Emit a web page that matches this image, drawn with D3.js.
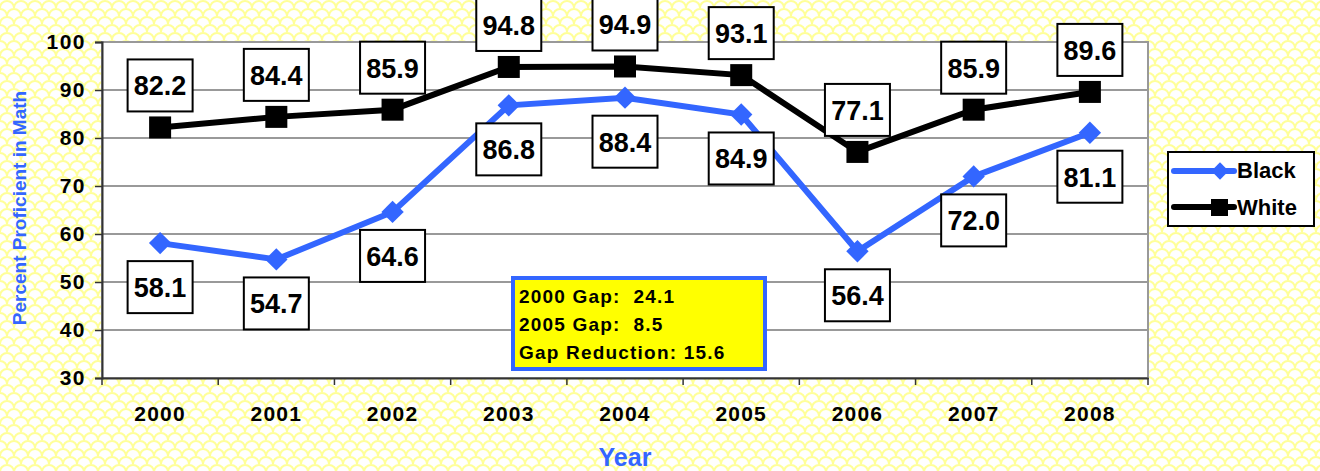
<!DOCTYPE html>
<html>
<head>
<meta charset="utf-8">
<script src="https://cdn.jsdelivr.net/npm/d3@7"></script>
<style>
  body { margin: 0; background: #fff; }
  text { font-family: "Liberation Sans", Arial, sans-serif; font-weight: bold; white-space: pre; }
</style>
</head>
<body>
<svg id="chart"></svg>
<script>
var years = ["2000", "2001", "2002", "2003", "2004", "2005", "2006", "2007", "2008"];
var blackVals = [58.1, 54.7, 64.6, 86.8, 88.4, 84.9, 56.4, 72.0, 81.1];
var whiteVals = [82.2, 84.4, 85.9, 94.8, 94.9, 93.1, 77.1, 85.9, 89.6];
var yTicks = [30, 40, 50, 60, 70, 80, 90, 100];
var gapLines = ["2000 Gap:  24.1", "2005 Gap:  8.5", "Gap Reduction: 15.6"];

var W = 1320, H = 471;
var margin = {top: 42, right: 172, bottom: 93, left: 102};
var width = W - margin.left - margin.right,
    height = H - margin.top - margin.bottom;

var blue = "#3366ff";
var font = "'Liberation Sans', Arial, sans-serif";

var svg = d3.select("#chart").attr("width", W).attr("height", H);

// yellow fish-scale background
var defs = svg.append("defs");
var pat = defs.append("pattern")
    .attr("id", "scales")
    .attr("patternUnits", "userSpaceOnUse")
    .attr("width", 28).attr("height", 16);
pat.append("rect").attr("width", 28).attr("height", 16).attr("fill", "#fff");
pat.append("path")
    .attr("d", "M0,8 A7,7 0 0,1 14,8 A7,7 0 0,1 28,8 M-7,16 A7,7 0 0,1 7,16 A7,7 0 0,1 21,16 A7,7 0 0,1 35,16 M-7,0 A7,7 0 0,1 7,0 A7,7 0 0,1 21,0 A7,7 0 0,1 35,0")
    .attr("fill", "none")
    .attr("stroke", "#ffff99")
    .attr("stroke-width", 2);
svg.append("rect").attr("width", W).attr("height", H).attr("fill", "url(#scales)");

var g = svg.append("g")
    .attr("transform", "translate(" + margin.left + "," + margin.top + ")");

var x = d3.scaleBand().domain(years).range([0, width]);
var y = d3.scaleLinear().domain([30, 100]).range([height, 0]);
var cx = function(d, i) { return x(years[i]) + x.bandwidth() / 2; };

// plot area
g.append("rect")
    .attr("width", width).attr("height", height)
    .attr("fill", "#fff")
    .attr("stroke", "#999").attr("stroke-width", 2);

// gridlines
g.selectAll(".grid")
    .data(yTicks.slice(1))
  .enter().append("line")
    .attr("x1", 0).attr("x2", width)
    .attr("y1", function(d) { return y(d); })
    .attr("y2", function(d) { return y(d); })
    .attr("stroke", "#999").attr("stroke-width", 2);

// y axis
var yAxis = g.append("g")
    .call(d3.axisLeft(y).tickValues(yTicks).tickSize(7).tickPadding(9));
yAxis.select(".domain").attr("stroke", "#333").attr("stroke-width", 2);
yAxis.selectAll(".tick line").attr("stroke", "#333").attr("stroke-width", 1.5);
yAxis.selectAll("text")
    .attr("font-size", 21).attr("font-family", font)
    .attr("letter-spacing", 1.5)
    .attr("font-weight", "bold").attr("fill", "#000");

// x axis
var xAxis = g.append("g")
    .attr("transform", "translate(0," + height + ")")
    .call(d3.axisBottom(x).tickSize(0).tickPadding(28));
xAxis.select(".domain").attr("stroke", "#333").attr("stroke-width", 2);
xAxis.selectAll("text")
    .attr("font-size", 21).attr("font-family", font)
    .attr("letter-spacing", 1.2)
    .attr("font-weight", "bold").attr("fill", "#000");
g.selectAll(".xtick")
    .data(years.concat(["end"]))
  .enter().append("line")
    .attr("x1", function(d, i) { return i * x.bandwidth(); })
    .attr("x2", function(d, i) { return i * x.bandwidth(); })
    .attr("y1", height).attr("y2", height + 7)
    .attr("stroke", "#333").attr("stroke-width", 1.5);

// axis titles
svg.append("text")
    .attr("transform", "translate(26," + (margin.top + height / 2 - 2) + ") rotate(-90)")
    .attr("text-anchor", "middle")
    .attr("font-size", 19).attr("fill", blue)
    .text("Percent Proficient in Math");
svg.append("text")
    .attr("x", 625).attr("y", 466)
    .attr("text-anchor", "middle")
    .attr("font-size", 25).attr("fill", blue)
    .text("Year");

// lines
var line = d3.line().x(cx).y(function(d) { return y(d); });

g.append("path").datum(blackVals)
    .attr("d", line).attr("fill", "none")
    .attr("stroke", blue).attr("stroke-width", 6);
g.append("path").datum(whiteVals)
    .attr("d", line).attr("fill", "none")
    .attr("stroke", "#000").attr("stroke-width", 6);

var diamond = d3.symbol().type(d3.symbolSquare).size(250);
g.selectAll(".bm")
    .data(blackVals)
  .enter().append("path")
    .attr("d", diamond)
    .attr("transform", function(d, i) { return "translate(" + cx(d, i) + "," + y(d) + ") rotate(45)"; })
    .attr("fill", blue);
g.selectAll(".wm")
    .data(whiteVals)
  .enter().append("rect")
    .attr("x", function(d, i) { return cx(d, i) - 11; })
    .attr("y", function(d) { return y(d) - 11; })
    .attr("width", 22).attr("height", 22)
    .attr("fill", "#000");

// data labels
var boxW = 65, boxH = 52;
function labels(vals, above) {
  var lg = g.selectAll(null)
      .data(vals)
    .enter().append("g")
      .attr("transform", function(d, i) {
        var top = above ? y(d) - 16 - boxH : y(d) + 18;
        return "translate(" + (cx(d, i) - boxW / 2) + "," + top + ")";
      });
  lg.append("rect")
      .attr("width", boxW).attr("height", boxH)
      .attr("fill", "#fff").attr("stroke", "#000").attr("stroke-width", 2);
  lg.append("text")
      .attr("x", boxW / 2).attr("y", boxH / 2 + 10)
      .attr("text-anchor", "middle")
      .attr("font-size", 27)
      .text(function(d) { return d.toFixed(1); });
}
labels(whiteVals, true);
labels(blackVals, false);

// gap annotation
var ann = svg.append("g").attr("transform", "translate(513,278)");
ann.append("rect")
    .attr("width", 252).attr("height", 91)
    .attr("fill", "#ffff00").attr("stroke", blue).attr("stroke-width", 4);
ann.selectAll("text")
    .data(gapLines)
  .enter().append("text")
    .attr("x", 6)
    .attr("y", function(d, i) { return 25 + i * 28; })
    .attr("font-size", 19)
    .attr("letter-spacing", 1.2)
    .text(function(d) { return d; });

// legend
var leg = svg.append("g").attr("transform", "translate(1168,152)");
leg.append("rect")
    .attr("width", 146).attr("height", 74)
    .attr("fill", "#fff").attr("stroke", "#000").attr("stroke-width", 2);
leg.append("line")
    .attr("x1", 6).attr("x2", 66).attr("y1", 19).attr("y2", 19)
    .attr("stroke", blue).attr("stroke-width", 6).attr("stroke-linecap", "round");
leg.append("path")
    .attr("d", d3.symbol().type(d3.symbolSquare).size(150))
    .attr("transform", "translate(52,19) rotate(45)")
    .attr("fill", blue);
leg.append("line")
    .attr("x1", 6).attr("x2", 66).attr("y1", 55).attr("y2", 55)
    .attr("stroke", "#000").attr("stroke-width", 6).attr("stroke-linecap", "round");
leg.append("rect")
    .attr("x", 43).attr("y", 47).attr("width", 17).attr("height", 17)
    .attr("fill", "#000");
leg.append("text").attr("x", 69).attr("y", 26).attr("font-size", 22).text("Black");
leg.append("text").attr("x", 69).attr("y", 63).attr("font-size", 22).text("White");
</script>
</body>
</html>
